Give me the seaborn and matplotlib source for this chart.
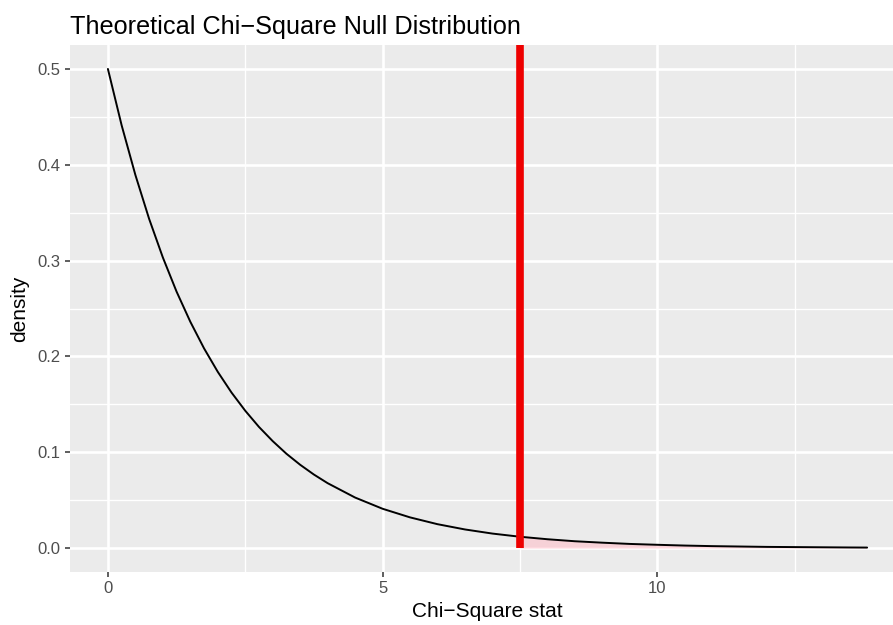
import matplotlib
matplotlib.use("Agg")
import matplotlib.pyplot as plt
import pandas as pd
import seaborn as sns

# chi-square stat values and the density
stat = [0, 0.25, 0.5, 0.75, 1, 1.25, 1.5, 1.75, 2, 2.25, 2.5, 2.75, 3, 3.25, 3.5, 3.75,
        4, 4.5, 5, 5.5, 6, 6.5, 7, 7.5, 8, 8.5, 9, 9.5, 10, 10.5, 11, 11.5,
        12, 12.5, 13, 13.5, 13.82]
density = [0.5, 0.4412, 0.3894, 0.3436, 0.3033, 0.2676, 0.2362, 0.2084, 0.1839, 0.1623,
           0.1433, 0.1264, 0.1116, 0.0984, 0.0869, 0.0767, 0.0677, 0.0527, 0.0410,
           0.0320, 0.0249, 0.0194, 0.0151, 0.0118, 0.0092, 0.0071, 0.0056, 0.0043,
           0.0034, 0.0026, 0.0020, 0.0016, 0.0012, 0.0010, 0.0008, 0.0006, 0.0005]
obs_stat = 7.5

df = pd.DataFrame({"stat": stat, "density": density})
tail = df[df["stat"] >= obs_stat]

sns.set_theme(style="darkgrid", rc={
    "axes.facecolor": "#EBEBEB",
    "grid.color": "white",
    "xtick.bottom": True,
    "ytick.left": True,
})
plt.rcParams["font.family"] = ["Liberation Sans", "DejaVu Sans"]

fig = plt.figure(figsize=(8.93, 6.25), dpi=100)
ax = fig.add_axes([70 / 893, 53 / 625, 835 / 893, 527 / 625])

ax.fill_between(tail["stat"], 0, tail["density"], color="pink", alpha=0.6, lw=0, zorder=2)
sns.lineplot(data=df, x="stat", y="density", color="black", lw=1.4, ax=ax, zorder=3)

ymin, ymax = -0.025, 0.525
ax.axvline(obs_stat, ymin=(0 - ymin) / (ymax - ymin), ymax=1, color="#EE0000",
           lw=5.5, solid_capstyle="butt", zorder=4)

ax.set_xlim(-0.69, 14.51)
ax.set_ylim(ymin, ymax)
ax.set_xticks([0, 5, 10])
ax.set_yticks([0, 0.1, 0.2, 0.3, 0.4, 0.5])
ax.set_yticklabels(["0.0", "0.1", "0.2", "0.3", "0.4", "0.5"])
ax.set_xticks([2.5, 7.5, 12.5], minor=True)
ax.set_yticks([0.05, 0.15, 0.25, 0.35, 0.45], minor=True)
ax.grid(which="major", color="white", lw=1.9)
ax.grid(which="minor", color="white", lw=0.95)
ax.tick_params(which="major", length=3.8, width=1.1, color="#333333",
               labelsize=12, labelcolor="#4D4D4D", pad=3)
ax.tick_params(which="minor", length=0)
for s in ax.spines.values():
    s.set_visible(False)

ax.set_xlabel("Chi\u2212Square stat", fontsize=15, color="black", labelpad=4)
ax.set_ylabel("density", fontsize=15, color="black", labelpad=6)
ax.set_title("Theoretical Chi\u2212Square Null Distribution", fontsize=18.2,
             color="black", loc="left", x=0.0, pad=8)

fig.savefig("out.png", dpi=100)
